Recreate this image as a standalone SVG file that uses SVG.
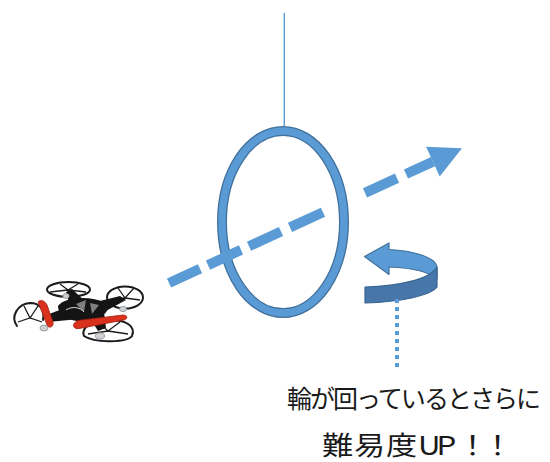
<svg xmlns="http://www.w3.org/2000/svg" width="550" height="462" viewBox="0 0 550 462">
  <style>
    .hanger { stroke: #5B9BD5; stroke-width: 1.4; fill: none; }
    .ring-edge { fill: none; stroke: #41719C; stroke-width: 10; }
    .ring-body { fill: none; stroke: #5B9BD5; stroke-width: 7.4; }
    .flight { fill: none; stroke: #5B9BD5; stroke-width: 10; stroke-linecap: butt; }
    .flight-head { fill: #5B9BD5; }
    .leader { fill: none; stroke: #5B9BD5; stroke-width: 4; stroke-dasharray: 4 4; }
    .turn-back { fill: #5B9BD5; stroke: #41719C; stroke-width: 1.2; stroke-linejoin: round; }
    .turn-front { fill: #4676AA; stroke: #3A6591; stroke-width: 1.2; stroke-linejoin: round; }
    .label { font-family: "Noto Sans CJK JP", "Noto Sans", sans-serif; fill: #1a1a1a; }
    .guard { fill: none; stroke: #1c1c1c; stroke-width: 2; stroke-linecap: round; }
    .strut { fill: none; stroke: #1c1c1c; stroke-width: 1.3; }
    .arm { fill: #141414; }
    .blade { fill: #d8321e; stroke: #a61f10; stroke-width: 0.8; }
    .motor { fill: #cfd2d4; stroke: #8a8d90; stroke-width: 0.8; }
  </style>

  <!-- string holding the hoop -->
  <g id="hanger">
    <line class="hanger" x1="284.3" y1="13" x2="284.3" y2="128"/>
  </g>

  <!-- rotating hoop -->
  <g id="ring">
    <ellipse class="ring-edge" cx="283" cy="222" rx="61" ry="91"/>
    <ellipse class="ring-body" cx="283" cy="222" rx="61" ry="91"/>
  </g>

  <!-- rotation indicator -->
  <g id="rotation-arrow">
    <path class="turn-back" d="M 364.5 256.5 L 389 243 L 389 249.5 C 412 250.5, 437 257, 437 268 L 437 279 C 430 272, 412 268, 389 267 L 389 274.5 Z"/>
    <path class="turn-front" d="M 437 267 C 430 279, 400 286, 365 287 L 365 303 C 400 302, 430 296, 437 287 Z"/>
  </g>

  <!-- connectors: flight path and leader line -->
  <g id="connectors">
    <path class="flight" d="M 169 283 L 200 268.8 M 208 265.1 L 241 249.9 M 249 246.2 L 281 231.5 M 290 227.4 L 323 212.2 M 365 192.9 L 397 178.1 M 406 174 L 433 161.6"/>
    <polygon class="flight-head" points="462,148.2 426.1,146.8 439.7,176.4"/>
    <line class="leader" x1="397" y1="299" x2="397" y2="367"/>
  </g>

  <!-- caption -->
  <g id="caption">
    <text class="label" x="287" y="408" font-size="25" textLength="254" lengthAdjust="spacing">輪が回っているとさらに</text>
    <text class="label" transform="scale(1.2,1)" x="268.3 295 321.7 348.3 363.8 380.8 401.7" y="455" font-size="26">難易度UP！！</text>
  </g>

  <!-- quadcopter -->
  <g id="drone">
    <!-- rear propeller guards -->
    <ellipse class="guard" cx="68.5" cy="289.5" rx="21.5" ry="7.5"/>
    <path class="strut" d="M 50 292 L 68 290 L 86 292 M 60 284 L 68 290 L 78 284"/>
    <ellipse class="guard" cx="125" cy="297.5" rx="18" ry="11"/>
    <path class="strut" d="M 110 300 L 125 298 L 140 300 M 118 288 L 125 298 L 134 288"/>
    <!-- arms -->
    <path class="arm" d="M 66 292 L 72 289 L 88 304 L 120 296 L 126 300 L 104 312 L 106 328 L 98 331 L 90 318 L 48 322 L 44 316 L 70 306 Z"/>
    <!-- central shell -->
    <path class="arm" d="M 58 306 C 64 297, 90 295, 106 303 C 112 309, 104 318, 88 321 C 72 323, 58 316, 58 306 Z"/>
    <path d="M 76 304 L 86 300 L 84 312 Z M 90 303 L 99 305 L 92 314 Z" fill="#9a9a9a" opacity="0.8"/>
    <path d="M 66 310 C 72 306, 80 307, 84 312" fill="none" stroke="#e0e0e0" stroke-width="1"/>
    <!-- front propeller guards -->
    <path class="guard" d="M 17 326 C 10 316, 18 304, 30 303 C 40 303, 45 310, 43 320"/>
    <path class="strut" d="M 18 322 L 30 318 L 42 322 M 24 306 L 30 318 L 38 306"/>
    <path class="guard" d="M 84 336 C 80 326, 96 320, 110 320 C 126 320, 136 326, 132 336 C 128 342, 96 344, 84 336 Z"/>
    <path class="strut" d="M 88 334 L 108 331 L 128 334 M 98 322 L 108 331 L 120 322"/>
    <!-- red rotor blades -->
    <path class="blade" d="M 38 302 C 41 299, 45 301, 47 305 L 53 322 C 54 327, 49 329, 47 325 Z"/>
    <path class="blade" d="M 74 327 C 72 324, 76 320, 82 320 L 123 315 C 128 315, 128 319, 124 320 L 82 328 C 78 329, 75 329, 74 327 Z"/>
    <!-- motors -->
    <ellipse class="motor" cx="44" cy="328" rx="4" ry="3"/>
    <ellipse class="motor" cx="100" cy="336" rx="4.5" ry="3.2"/>
    <ellipse class="motor" cx="123" cy="309" rx="3.5" ry="2.6"/>
    <ellipse class="motor" cx="66" cy="296" rx="3.2" ry="2.4"/>
  </g>
</svg>
